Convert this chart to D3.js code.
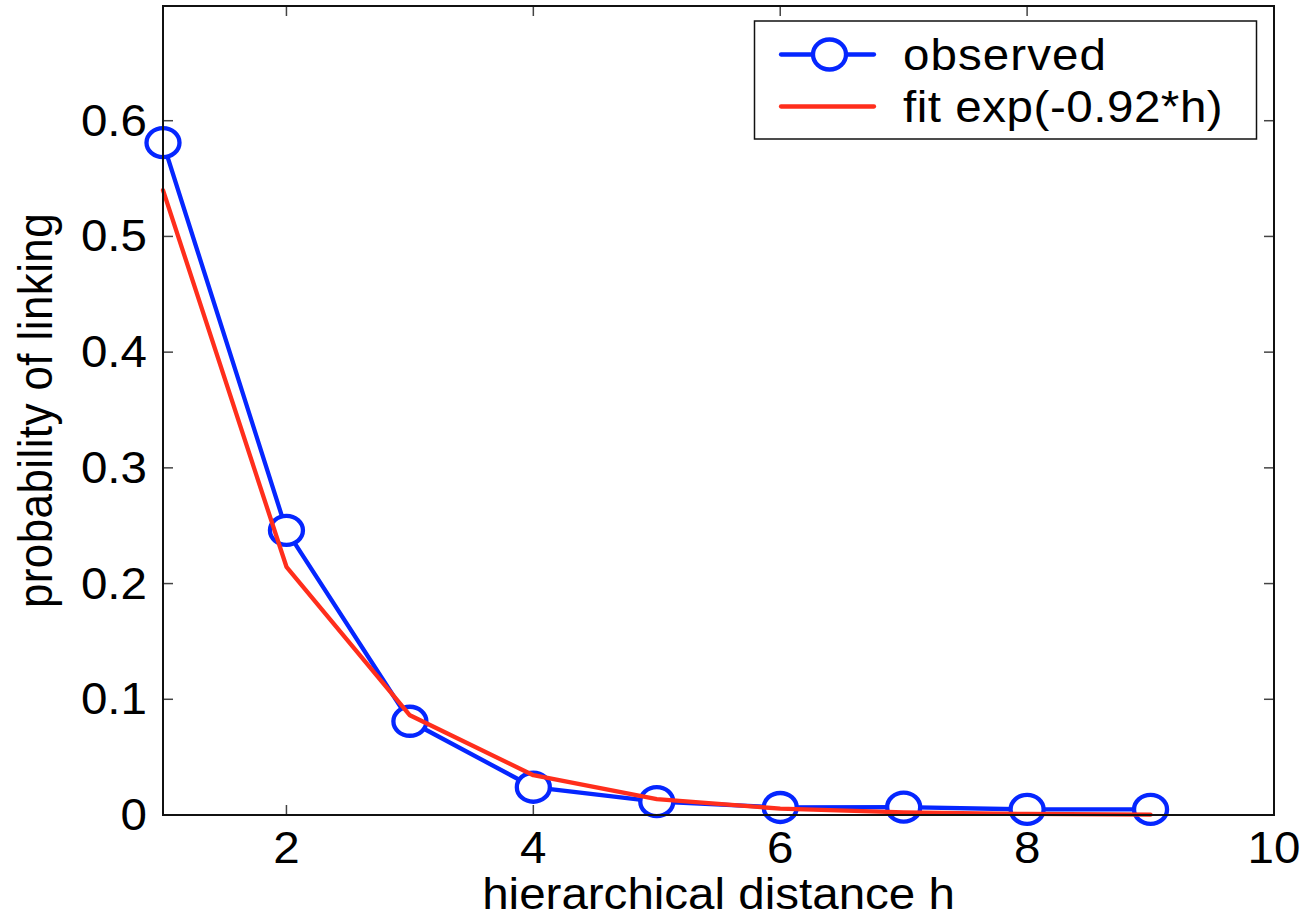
<!DOCTYPE html>
<html>
<head>
<meta charset="utf-8">
<script src="https://cdn.jsdelivr.net/npm/d3@7"></script>
<style>
  html, body { margin: 0; padding: 0; background: #ffffff; }
  svg { display: block; }
  text { font-family: "Liberation Sans", Arial, sans-serif; fill: #000; }
</style>
</head>
<body>
<svg id="chart" width="1303" height="921"></svg>
<script>
// hierarchical distance h
const distances = [1, 2, 3, 4, 5, 6, 7, 8, 9];
// observed probability of linking
const observed = [0.581, 0.246, 0.081, 0.024, 0.0115, 0.0065, 0.0068, 0.0048, 0.0048];
// fitted curve exp(-0.92*h)
const fitted = [0.54, 0.2145, 0.0862, 0.0344, 0.0137, 0.0055, 0.0022, 0.0009, 0.0003];
const xTicks = [2, 4, 6, 8, 10];
const yTicks = [0, 0.1, 0.2, 0.3, 0.4, 0.5, 0.6];
const legendLabels = ["observed", "fit exp(-0.92*h)"];

const BLUE = "#0526ff";
const RED = "#ff2e1c";
const FONT = 44;
const STRETCH = 1.08;

const svg = d3.select("#chart");
const plotLeft = 163, plotRight = 1274, plotTop = 6, plotBottom = 815;

const x = d3.scaleLinear().domain([1, 10]).range([plotLeft, plotRight]);
const y = d3.scaleLinear().domain([0, 0.7]).range([plotBottom, 5]);

// horizontally widened text
function wideText(g, tx, ty, str, anchor) {
  return g.append("text")
    .attr("transform", `translate(${tx},${ty}) scale(${STRETCH},1)`)
    .attr("text-anchor", anchor)
    .attr("font-size", FONT)
    .text(str);
}

// inward ticks on all four sides
const tickLen = 10;
const ticks = svg.append("g").attr("stroke", "#444").attr("stroke-width", 1.5);
xTicks.filter(v => v < 10).forEach(v => {
  ticks.append("line").attr("x1", x(v)).attr("x2", x(v)).attr("y1", plotBottom).attr("y2", plotBottom - tickLen);
  ticks.append("line").attr("x1", x(v)).attr("x2", x(v)).attr("y1", plotTop).attr("y2", plotTop + tickLen);
});
yTicks.filter(v => v > 0).forEach(v => {
  ticks.append("line").attr("x1", plotLeft).attr("x2", plotLeft + tickLen).attr("y1", y(v)).attr("y2", y(v));
  ticks.append("line").attr("x1", plotRight).attr("x2", plotRight - tickLen).attr("y1", y(v)).attr("y2", y(v));
});

// tick labels
const labels = svg.append("g");
xTicks.forEach(v => wideText(labels, x(v), 863, String(v), "middle"));
yTicks.forEach(v => wideText(labels, 147, y(v) + 15, d3.format("")(v), "end"));

// axis titles
wideText(svg, (plotLeft + plotRight) / 2, 909, "hierarchical distance h", "middle");
svg.append("text")
  .attr("transform", `translate(52,${(plotTop + plotBottom) / 2}) rotate(-90) scale(1,${STRETCH})`)
  .attr("text-anchor", "middle")
  .attr("font-size", FONT)
  .attr("letter-spacing", 0.4)
  .text("probability of linking");

// series
const line = d3.line().x((d, i) => x(distances[i])).y(d => y(d));
const plot = svg.append("g");
plot.append("path").datum(observed)
  .attr("d", line).attr("fill", "none")
  .attr("stroke", BLUE).attr("stroke-width", 4.3)
  .attr("stroke-linejoin", "round").attr("stroke-linecap", "round");
plot.selectAll("ellipse.obs").data(observed).enter().append("ellipse")
  .attr("class", "obs")
  .attr("cx", (d, i) => x(distances[i])).attr("cy", d => y(d))
  .attr("rx", 16.5).attr("ry", 14.5)
  .attr("fill", "#fff").attr("stroke", BLUE).attr("stroke-width", 4.3);
plot.append("path").datum(fitted)
  .attr("d", line).attr("fill", "none")
  .attr("stroke", RED).attr("stroke-width", 4.3)
  .attr("stroke-linejoin", "round").attr("stroke-linecap", "round");

// axes box
svg.append("rect")
  .attr("x", plotLeft).attr("y", plotTop).attr("width", plotRight - plotLeft).attr("height", plotBottom - plotTop)
  .attr("fill", "none").attr("stroke", "#111").attr("stroke-width", 2);

// legend
const lg = svg.append("g");
lg.append("rect").attr("x", 754.5).attr("y", 21).attr("width", 502).attr("height", 118)
  .attr("fill", "#fff").attr("stroke", "#111").attr("stroke-width", 1.5);
const rows = [54.5, 106.5];
lg.append("line").attr("x1", 781).attr("x2", 874).attr("y1", rows[0]).attr("y2", rows[0])
  .attr("stroke", BLUE).attr("stroke-width", 4.3).attr("stroke-linecap", "round");
lg.append("ellipse").attr("cx", 829.5).attr("cy", rows[0]).attr("rx", 16.5).attr("ry", 15)
  .attr("fill", "#fff").attr("stroke", BLUE).attr("stroke-width", 4.3);
lg.append("line").attr("x1", 781).attr("x2", 874).attr("y1", rows[1]).attr("y2", rows[1])
  .attr("stroke", RED).attr("stroke-width", 4.3).attr("stroke-linecap", "round");
legendLabels.forEach((t, i) => {
  wideText(lg, 903, rows[i] + 15, t, "start").attr("letter-spacing", i === 0 ? 1 : 0.5);
});
</script>
</body>
</html>
